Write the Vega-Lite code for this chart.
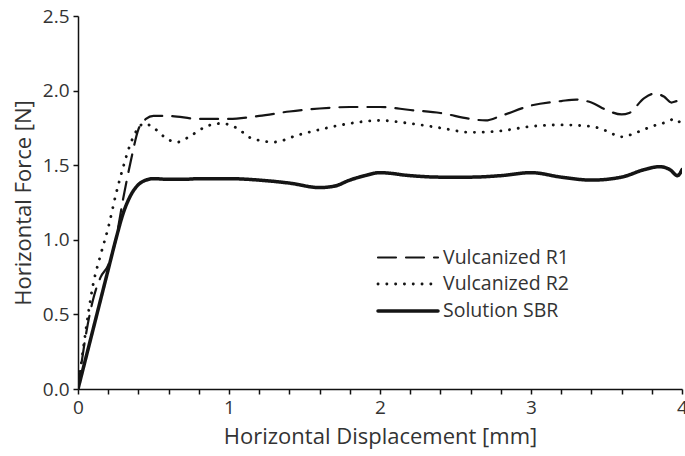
{
  "$schema": "https://vega.github.io/schema/vega-lite/v6.json",
  "autosize": {"type": "none"},
  "padding": {"left": 78, "top": 16, "right": 3, "bottom": 67},
  "width": 604,
  "height": 373,
  "background": "white",
  "config": {
    "view": {"stroke": null},
    "font": "Open Sans",
    "axis": {"grid": false, "zindex": 1, "domainColor": "#111", "domainWidth": 1.5, "labelColor": "#333", "titleColor": "#333", "labelFont": "Open Sans", "titleFont": "Open Sans", "titleFontWeight": "normal", "labelFlush": false}
  },
  "data": {"values": [
    {"s": "Solution SBR", "x": 0, "y": 0},
    {"s": "Solution SBR", "x": 0.05, "y": 0.2},
    {"s": "Solution SBR", "x": 0.1, "y": 0.4},
    {"s": "Solution SBR", "x": 0.15, "y": 0.6},
    {"s": "Solution SBR", "x": 0.2, "y": 0.8},
    {"s": "Solution SBR", "x": 0.25, "y": 1.0},
    {"s": "Solution SBR", "x": 0.3, "y": 1.18},
    {"s": "Solution SBR", "x": 0.35, "y": 1.3},
    {"s": "Solution SBR", "x": 0.4, "y": 1.37},
    {"s": "Solution SBR", "x": 0.45, "y": 1.4},
    {"s": "Solution SBR", "x": 0.5, "y": 1.41},
    {"s": "Solution SBR", "x": 0.6, "y": 1.405},
    {"s": "Solution SBR", "x": 0.7, "y": 1.405},
    {"s": "Solution SBR", "x": 0.8, "y": 1.41},
    {"s": "Solution SBR", "x": 1.0, "y": 1.41},
    {"s": "Solution SBR", "x": 1.2, "y": 1.4},
    {"s": "Solution SBR", "x": 1.4, "y": 1.38},
    {"s": "Solution SBR", "x": 1.6, "y": 1.35},
    {"s": "Solution SBR", "x": 1.7, "y": 1.36},
    {"s": "Solution SBR", "x": 1.8, "y": 1.4},
    {"s": "Solution SBR", "x": 1.9, "y": 1.43},
    {"s": "Solution SBR", "x": 2.0, "y": 1.45},
    {"s": "Solution SBR", "x": 2.2, "y": 1.43},
    {"s": "Solution SBR", "x": 2.4, "y": 1.42},
    {"s": "Solution SBR", "x": 2.6, "y": 1.42},
    {"s": "Solution SBR", "x": 2.8, "y": 1.43},
    {"s": "Solution SBR", "x": 3.0, "y": 1.45},
    {"s": "Solution SBR", "x": 3.2, "y": 1.42},
    {"s": "Solution SBR", "x": 3.4, "y": 1.4},
    {"s": "Solution SBR", "x": 3.6, "y": 1.42},
    {"s": "Solution SBR", "x": 3.75, "y": 1.47},
    {"s": "Solution SBR", "x": 3.85, "y": 1.49},
    {"s": "Solution SBR", "x": 3.92, "y": 1.47},
    {"s": "Solution SBR", "x": 3.97, "y": 1.43},
    {"s": "Solution SBR", "x": 4.0, "y": 1.47},
    {"s": "Vulcanized R1", "x": 0, "y": 0},
    {"s": "Vulcanized R1", "x": 0.05, "y": 0.35},
    {"s": "Vulcanized R1", "x": 0.1, "y": 0.6},
    {"s": "Vulcanized R1", "x": 0.15, "y": 0.75},
    {"s": "Vulcanized R1", "x": 0.2, "y": 0.83},
    {"s": "Vulcanized R1", "x": 0.25, "y": 1.0},
    {"s": "Vulcanized R1", "x": 0.3, "y": 1.28},
    {"s": "Vulcanized R1", "x": 0.35, "y": 1.53},
    {"s": "Vulcanized R1", "x": 0.4, "y": 1.74},
    {"s": "Vulcanized R1", "x": 0.45, "y": 1.81},
    {"s": "Vulcanized R1", "x": 0.5, "y": 1.83},
    {"s": "Vulcanized R1", "x": 0.6, "y": 1.83},
    {"s": "Vulcanized R1", "x": 0.8, "y": 1.81},
    {"s": "Vulcanized R1", "x": 1.0, "y": 1.81},
    {"s": "Vulcanized R1", "x": 1.2, "y": 1.83},
    {"s": "Vulcanized R1", "x": 1.4, "y": 1.86},
    {"s": "Vulcanized R1", "x": 1.6, "y": 1.88},
    {"s": "Vulcanized R1", "x": 1.8, "y": 1.89},
    {"s": "Vulcanized R1", "x": 2.0, "y": 1.89},
    {"s": "Vulcanized R1", "x": 2.2, "y": 1.87},
    {"s": "Vulcanized R1", "x": 2.4, "y": 1.85},
    {"s": "Vulcanized R1", "x": 2.6, "y": 1.81},
    {"s": "Vulcanized R1", "x": 2.7, "y": 1.8},
    {"s": "Vulcanized R1", "x": 2.8, "y": 1.83},
    {"s": "Vulcanized R1", "x": 3.0, "y": 1.9},
    {"s": "Vulcanized R1", "x": 3.2, "y": 1.93},
    {"s": "Vulcanized R1", "x": 3.3, "y": 1.94},
    {"s": "Vulcanized R1", "x": 3.4, "y": 1.92},
    {"s": "Vulcanized R1", "x": 3.5, "y": 1.87},
    {"s": "Vulcanized R1", "x": 3.6, "y": 1.84},
    {"s": "Vulcanized R1", "x": 3.65, "y": 1.85},
    {"s": "Vulcanized R1", "x": 3.75, "y": 1.95},
    {"s": "Vulcanized R1", "x": 3.82, "y": 1.98},
    {"s": "Vulcanized R1", "x": 3.88, "y": 1.96},
    {"s": "Vulcanized R1", "x": 3.93, "y": 1.92},
    {"s": "Vulcanized R1", "x": 3.97, "y": 1.93},
    {"s": "Vulcanized R1", "x": 4.0, "y": 1.9},
    {"s": "Vulcanized R2", "x": 0, "y": 0},
    {"s": "Vulcanized R2", "x": 0.05, "y": 0.38},
    {"s": "Vulcanized R2", "x": 0.1, "y": 0.7},
    {"s": "Vulcanized R2", "x": 0.15, "y": 0.9},
    {"s": "Vulcanized R2", "x": 0.2, "y": 1.08},
    {"s": "Vulcanized R2", "x": 0.25, "y": 1.3},
    {"s": "Vulcanized R2", "x": 0.3, "y": 1.49},
    {"s": "Vulcanized R2", "x": 0.35, "y": 1.65},
    {"s": "Vulcanized R2", "x": 0.4, "y": 1.75},
    {"s": "Vulcanized R2", "x": 0.44, "y": 1.78},
    {"s": "Vulcanized R2", "x": 0.5, "y": 1.75},
    {"s": "Vulcanized R2", "x": 0.6, "y": 1.67},
    {"s": "Vulcanized R2", "x": 0.66, "y": 1.655},
    {"s": "Vulcanized R2", "x": 0.75, "y": 1.7},
    {"s": "Vulcanized R2", "x": 0.85, "y": 1.76},
    {"s": "Vulcanized R2", "x": 0.95, "y": 1.78},
    {"s": "Vulcanized R2", "x": 1.05, "y": 1.75},
    {"s": "Vulcanized R2", "x": 1.15, "y": 1.68},
    {"s": "Vulcanized R2", "x": 1.3, "y": 1.655},
    {"s": "Vulcanized R2", "x": 1.45, "y": 1.7},
    {"s": "Vulcanized R2", "x": 1.65, "y": 1.75},
    {"s": "Vulcanized R2", "x": 1.8, "y": 1.78},
    {"s": "Vulcanized R2", "x": 2.0, "y": 1.8},
    {"s": "Vulcanized R2", "x": 2.2, "y": 1.78},
    {"s": "Vulcanized R2", "x": 2.4, "y": 1.75},
    {"s": "Vulcanized R2", "x": 2.6, "y": 1.72},
    {"s": "Vulcanized R2", "x": 2.8, "y": 1.73},
    {"s": "Vulcanized R2", "x": 3.0, "y": 1.76},
    {"s": "Vulcanized R2", "x": 3.2, "y": 1.77},
    {"s": "Vulcanized R2", "x": 3.4, "y": 1.76},
    {"s": "Vulcanized R2", "x": 3.5, "y": 1.73},
    {"s": "Vulcanized R2", "x": 3.6, "y": 1.69},
    {"s": "Vulcanized R2", "x": 3.7, "y": 1.72},
    {"s": "Vulcanized R2", "x": 3.8, "y": 1.76},
    {"s": "Vulcanized R2", "x": 3.9, "y": 1.79},
    {"s": "Vulcanized R2", "x": 3.95, "y": 1.81},
    {"s": "Vulcanized R2", "x": 4.0, "y": 1.77}
  ]},
  "mark": {"type": "line", "interpolate": "monotone", "color": "#151515", "strokeCap": "round", "clip": true},
  "encoding": {
    "x": {
      "field": "x", "type": "quantitative",
      "scale": {"domain": [0, 4], "nice": false},
      "axis": {
        "title": "Horizontal Displacement [mm]",
        "values": [0, 0.2, 0.4, 0.6, 0.8, 1, 1.2, 1.4, 1.6, 1.8, 2, 2.2, 2.4, 2.6, 2.8, 3, 3.2, 3.4, 3.6, 3.8, 4],
        "labelExpr": "datum.value % 1 === 0 ? format(datum.value, 'd') : ''",
        "labelOverlap": false,
        "labelFontSize": 19,
        "labelPadding": 4,
        "ticks": true,
        "tickSize": 5,
        "tickColor": "#111",
        "tickWidth": 1.5,
        "tickOpacity": 1,
        "titleFontSize": 22,
        "titlePadding": 9,
        "encode": {"ticks": {"update": {"y2": {"value": -6}, "stroke": {"value": "#111"}, "strokeWidth": {"value": 1.5}, "opacity": {"value": 1}}}}
      }
    },
    "y": {
      "field": "y", "type": "quantitative",
      "scale": {"domain": [0, 2.5], "nice": false},
      "axis": {
        "title": "Horizontal Force [N]",
        "values": [0, 0.5, 1, 1.5, 2, 2.5],
        "format": ".1f",
        "labelFontSize": 19,
        "labelPadding": 4,
        "ticks": true,
        "tickSize": 5,
        "tickColor": "#111",
        "tickWidth": 1.5,
        "tickOpacity": 1,
        "titleFontSize": 22,
        "titlePadding": 7,
        "encode": {"ticks": {"update": {"x2": {"value": 6}, "stroke": {"value": "#111"}, "strokeWidth": {"value": 1.5}, "opacity": {"value": 1}}}}
      }
    },
    "detail": {"field": "s"},
    "strokeDash": {
      "field": "s", "type": "nominal",
      "scale": {"domain": ["Vulcanized R1", "Vulcanized R2", "Solution SBR"], "range": [[18, 10], [0.1, 8.7], [1, 0]]},
      "legend": {
        "title": null,
        "orient": "none",
        "legendX": 318,
        "legendY": 230,
        "symbolType": "M-3,0H3",
        "symbolSize": 400,
        "symbolStrokeColor": "#151515",
        "symbolStrokeWidth": 2.2,
        "labelFontSize": 19.5,
        "labelColor": "#333",
        "labelFont": "Open Sans",
        "labelOffset": 23,
        "rowPadding": 5.5,
        "encode": {"symbols": {"update": {"strokeCap": {"value": "round"}, "strokeWidth": {"signal": "datum.value === 'Vulcanized R2' ? 3.5 : 2.2"}}}}
      }
    },
    "strokeWidth": {
      "field": "s", "type": "nominal",
      "scale": {"domain": ["Vulcanized R1", "Vulcanized R2", "Solution SBR"], "range": [2.2, 3.5, 2.2]},
      "legend": null
    }
  }
}
